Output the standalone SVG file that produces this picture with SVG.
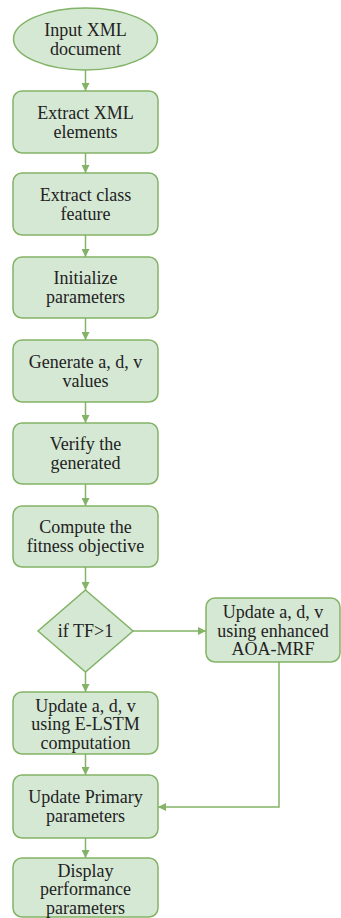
<svg xmlns="http://www.w3.org/2000/svg" width="341" height="918" viewBox="0 0 341 918">
<style>
.n{fill:#d5e8d4;stroke:#82b366;stroke-width:1.5}
.t{font-family:"Liberation Serif","Times New Roman",serif;font-size:18px;fill:#222;text-anchor:middle}
.c{fill:none;stroke:#82b366;stroke-width:1.5}
</style>
<defs>
<marker id="ah" viewBox="0 0 10 10" refX="10" refY="5" markerWidth="8" markerHeight="8" markerUnits="userSpaceOnUse" orient="auto">
<path d="M0,0 L10,5 L0,10 z" fill="#82b366"/>
</marker>
</defs>
<g id="connectors">
<path class="c" d="M85.5,70 V91" marker-end="url(#ah)"/>
<path class="c" d="M85.5,153 V173" marker-end="url(#ah)"/>
<path class="c" d="M85.5,235 V257" marker-end="url(#ah)"/>
<path class="c" d="M85.5,318 V340" marker-end="url(#ah)"/>
<path class="c" d="M85.5,402 V423" marker-end="url(#ah)"/>
<path class="c" d="M85.5,484 V506" marker-end="url(#ah)"/>
<path class="c" d="M85.5,567 V590" marker-end="url(#ah)"/>
<path class="c" d="M133,631 H206" marker-end="url(#ah)"/>
<path class="c" d="M85.5,672 V692" marker-end="url(#ah)"/>
<path class="c" d="M85.5,754 V775" marker-end="url(#ah)"/>
<path class="c" d="M85.5,838 V858" marker-end="url(#ah)"/>
<path class="c" d="M279,662 V807 H158" marker-end="url(#ah)"/>
</g>
<g id="start">
<ellipse class="n" cx="85.5" cy="39" rx="72" ry="31"/>
<text class="t" x="85.5" y="35.5">Input XML</text>
<text class="t" x="85.5" y="54.5">document</text>
</g>
<g id="extract-xml">
<rect class="n" x="13" y="91" width="145" height="62" rx="9"/>
<text class="t" x="85.5" y="118.5">Extract XML</text>
<text class="t" x="85.5" y="137.5">elements</text>
</g>
<g id="extract-class">
<rect class="n" x="13" y="173" width="145" height="62" rx="9"/>
<text class="t" x="85.5" y="200.5">Extract class</text>
<text class="t" x="85.5" y="219.5">feature</text>
</g>
<g id="init">
<rect class="n" x="13" y="257" width="145" height="61" rx="9"/>
<text class="t" x="85.5" y="284">Initialize</text>
<text class="t" x="85.5" y="303">parameters</text>
</g>
<g id="generate">
<rect class="n" x="13" y="340" width="145" height="62" rx="9"/>
<text class="t" x="85.5" y="367.5">Generate a, d, v</text>
<text class="t" x="85.5" y="386.5">values</text>
</g>
<g id="verify">
<rect class="n" x="13" y="423" width="145" height="61" rx="9"/>
<text class="t" x="85.5" y="450">Verify the</text>
<text class="t" x="85.5" y="469">generated</text>
</g>
<g id="compute">
<rect class="n" x="13" y="506" width="145" height="61" rx="9"/>
<text class="t" x="85.5" y="533">Compute the</text>
<text class="t" x="85.5" y="552">fitness objective</text>
</g>
<g id="decision">
<polygon class="n" points="85.5,590 133,631 85.5,672 38,631"/>
<text class="t" x="85.5" y="637">if TF&gt;1</text>
</g>
<g id="aoa-mrf">
<rect class="n" x="206" y="598" width="134" height="64" rx="9"/>
<text class="t" x="273" y="618">Update a, d, v</text>
<text class="t" x="273" y="636.5">using enhanced</text>
<text class="t" x="273" y="655">AOA-MRF</text>
</g>
<g id="elstm">
<rect class="n" x="13" y="692" width="145" height="62" rx="9"/>
<text class="t" x="85.5" y="711.5">Update a, d, v</text>
<text class="t" x="85.5" y="730">using E-LSTM</text>
<text class="t" x="85.5" y="748.5">computation</text>
</g>
<g id="update-primary">
<rect class="n" x="13" y="775" width="145" height="63" rx="9"/>
<text class="t" x="85.5" y="803">Update Primary</text>
<text class="t" x="85.5" y="822">parameters</text>
</g>
<g id="display">
<rect class="n" x="13" y="858" width="145" height="59" rx="9"/>
<text class="t" x="85.5" y="876.5">Display</text>
<text class="t" x="85.5" y="895">performance</text>
<text class="t" x="85.5" y="913.5">parameters</text>
</g>
</svg>
